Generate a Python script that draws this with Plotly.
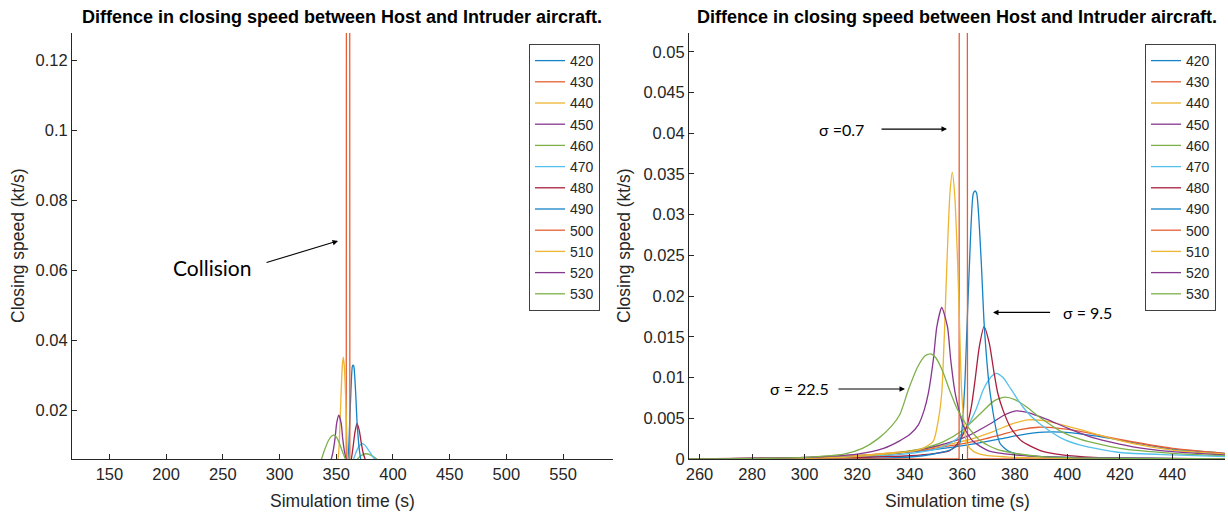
import plotly.graph_objects as go

# ---------------- data ----------------
speeds = ["420", "430", "440", "450", "460", "470", "480", "490", "500", "510", "520", "530"]
palette = ["#1583C6", "#E65F36", "#EDB532", "#86378F", "#7DB04A", "#55C0EC",
           "#A81E3E", "#1583C6", "#E65F36", "#EDB532", "#86378F", "#7DB04A"]

t_420 = [256, 300, 320, 335, 345, 355, 365, 375, 383, 391, 398, 407, 417, 427, 440, 460]
v_420 = [0.0000, 0.0001, 0.0004, 0.0007, 0.0010, 0.0014, 0.0019, 0.0025, 0.0030, 0.0033, 0.0033, 0.0030, 0.0025, 0.0019, 0.0012, 0.0007]

t_430 = [256, 300, 320, 335, 345, 355, 365, 375, 382, 389, 396, 405, 415, 425, 440, 460]
v_430 = [0.0000, 0.0001, 0.0004, 0.0008, 0.0011, 0.0016, 0.0022, 0.0030, 0.0036, 0.0039, 0.0038, 0.0034, 0.0027, 0.0021, 0.0013, 0.0007]

t_440 = [256, 300, 320, 335, 345, 355, 365, 372, 379, 385, 391, 398, 406, 415, 425, 440, 460]
v_440 = [0.0000, 0.0001, 0.0004, 0.0008, 0.0012, 0.0018, 0.0026, 0.0034, 0.0043, 0.0048, 0.0047, 0.0042, 0.0035, 0.0027, 0.0019, 0.0011, 0.0006]

t_450 = [256, 300, 320, 335, 345, 355, 362, 370, 376, 380.5, 385, 392, 400, 410, 425, 440, 460]
v_450 = [0.0000, 0.0001, 0.0003, 0.0007, 0.0012, 0.0020, 0.0028, 0.0042, 0.0054, 0.0059, 0.0057, 0.0049, 0.0038, 0.0026, 0.0015, 0.0009, 0.0005]

t_460 = [256, 300, 315, 330, 345, 352.7, 360, 367.6, 372, 376, 380, 384, 390, 397.5, 405, 420, 440, 460]
v_460 = [0.0000, 0.0001, 0.0002, 0.0005, 0.0013, 0.0021, 0.0035, 0.0058, 0.0071, 0.0076, 0.0073, 0.0065, 0.0050, 0.0034, 0.0024, 0.0013, 0.0007, 0.0004]

t_470 = [256, 300, 330, 345, 352.7, 358, 362, 365.4, 368, 371, 373, 375.5, 378.5, 382.6, 386, 390, 397.5, 405, 420, 440, 460]
v_470 = [0.0000, 0.0001, 0.0004, 0.0009, 0.0015, 0.0025, 0.0040, 0.0062, 0.0085, 0.0101, 0.0105, 0.0100, 0.0086, 0.0066, 0.0053, 0.0042, 0.0026, 0.0017, 0.0008, 0.0005, 0.0003]

t_480 = [256, 320, 340, 350, 355, 358, 361.5, 363.5, 364.8, 366.5, 368.3, 370.3, 372, 373.5, 375.5, 378.5, 382.6, 390, 398, 410, 430, 460]
v_480 = [0.0000, 0.0002, 0.0004, 0.0007, 0.0010, 0.0018, 0.0038, 0.0065, 0.0095, 0.0138, 0.01625, 0.0142, 0.0108, 0.0081, 0.0060, 0.0038, 0.0022, 0.0010, 0.0005, 0.0002, 0.0001, 0.0000]

t_490 = [256, 330, 345, 352, 356, 359.0, 360.8, 361.8, 362.8, 364.2, 364.9, 365.5, 367.2, 368.4, 370.6, 374.4, 378, 383, 390, 400, 420, 460]
v_490 = [0.0000, 0.0001, 0.0004, 0.0008, 0.0012, 0.0019, 0.0081, 0.0162, 0.0244, 0.0326, 0.0329, 0.0326, 0.0244, 0.0162, 0.0081, 0.0019, 0.0009, 0.0005, 0.0003, 0.0002, 0.0001, 0.0000]

t_500 = [256, 358.8, 359.3, 361.5, 362.0, 460]
v_500 = [0.0000, 0.0000, 0.5000, 0.5000, 0.0000, 0.0000]

t_510 = [256, 300, 320, 330, 340, 345, 349, 351, 352.2, 353.3, 354.2, 355.3, 356.2, 357.1, 358.2, 359.0, 359.8, 361.7, 364, 368, 380, 460]
v_510 = [0.0000, 0.0001, 0.0003, 0.0006, 0.0009, 0.0013, 0.0022, 0.0050, 0.0081, 0.0162, 0.0244, 0.0326, 0.0352, 0.0326, 0.0244, 0.0162, 0.0081, 0.0019, 0.0010, 0.0005, 0.0002, 0.0000]

t_520 = [256, 300, 320, 330, 336, 340, 343.3, 345.5, 347.1, 349.0, 350.3, 352.2, 354.4, 355.6, 357.3, 360.5, 364, 370, 380, 400, 460]
v_520 = [0.0000, 0.0002, 0.0006, 0.0013, 0.0022, 0.0030, 0.0042, 0.0060, 0.0081, 0.0122, 0.0162, 0.0186, 0.0162, 0.0122, 0.0081, 0.0040, 0.0022, 0.0010, 0.0005, 0.0002, 0.0000]

t_530 = [256, 290, 305, 315, 322, 328, 333, 336.3, 339.5, 343, 346, 348, 350, 352.5, 355, 358, 362, 367, 373, 380, 390, 410, 460]
v_530 = [0.0000, 0.0001, 0.0003, 0.0006, 0.0013, 0.0025, 0.0040, 0.0055, 0.0085, 0.0113, 0.0127, 0.0129, 0.0124, 0.0108, 0.0086, 0.0062, 0.0040, 0.0022, 0.0012, 0.0007, 0.0003, 0.0001, 0.0000]

series_t = [t_420, t_430, t_440, t_450, t_460, t_470, t_480, t_490, t_500, t_510, t_520, t_530]
series_v = [v_420, v_430, v_440, v_450, v_460, v_470, v_480, v_490, v_500, v_510, v_520, v_530]

left_xticks = [150, 200, 250, 300, 350, 400, 450, 500, 550]
right_xticks = [260, 280, 300, 320, 340, 360, 380, 400, 420, 440]
left_yticks = [0.02, 0.04, 0.06, 0.08, 0.1, 0.12]
left_yticklabels = ["0.02", "0.04", "0.06", "0.08", "0.1", "0.12"]
right_yticks = [0, 0.005, 0.01, 0.015, 0.02, 0.025, 0.03, 0.035, 0.04, 0.045, 0.05]
right_yticklabels = ["0", "0.005", "0.01", "0.015", "0.02", "0.025", "0.03", "0.035", "0.04", "0.045", "0.05"]

title_text = "Diffence in closing speed between Host and Intruder aircraft."
xlabel = "Simulation time (s)"
ylabel = "Closing speed (kt/s)"

# ---------------- figure ----------------
W, H = 1228, 516
ML, MR, MT, MB = 72, 3, 33, 57
plot_w = W - ML - MR
plot_h = H - MT - MB


def px(xp):
    return (xp - ML) / plot_w


def py(yp):
    return (H - MB - yp) / plot_h


fig = go.Figure()
for i, s in enumerate(speeds):
    shape = "linear" if s == "500" else "spline"
    for xa, ya, lg in (("x", "y", "legend"), ("x2", "y2", "legend2")):
        fig.add_trace(go.Scatter(
            x=series_t[i], y=series_v[i], mode="lines", name=s,
            line=dict(color=palette[i], width=1.3, shape=shape, smoothing=0.6),
            xaxis=xa, yaxis=ya, legend=lg, hoverinfo="skip"))

font_main = "Liberation Sans, Arial, sans-serif"
axis_common = dict(showline=True, linecolor="#262626", linewidth=1, ticks="inside",
                   ticklen=5, tickcolor="#262626", showgrid=False, zeroline=False,
                   tickfont=dict(size=16.5, color="#262626", family=font_main), mirror=False)

left_dom = [0, px(613)]
right_dom = [px(689), 1]

legend_common = dict(xanchor="right", yanchor="top", bgcolor="white",
                     bordercolor="#404040", borderwidth=1,
                     font=dict(size=14, color="#262626", family=font_main),
                     tracegroupgap=0)

fig.update_layout(
    width=W, height=H,
    margin=dict(l=ML, r=MR, t=MT, b=MB),
    paper_bgcolor="white", plot_bgcolor="white",
    font=dict(family=font_main, color="#262626"),
    xaxis=dict(domain=left_dom, range=[117, 594], tickvals=left_xticks, anchor="y", **axis_common),
    yaxis=dict(domain=[0, 1], range=[0.0061, 0.1278], tickvals=left_yticks,
               ticktext=left_yticklabels, anchor="x", **axis_common),
    xaxis2=dict(domain=right_dom, range=[256, 460], tickvals=right_xticks, anchor="y2", **axis_common),
    yaxis2=dict(domain=[0, 1], range=[0, 0.0523], tickvals=right_yticks,
                ticktext=right_yticklabels, anchor="x2", **axis_common),
    legend=dict(x=px(600), y=py(44), **legend_common),
    legend2=dict(x=px(1216), y=py(44), **legend_common),
    showlegend=True,
)

ann = []
# titles
for cx in (342, 957):
    ann.append(dict(text="<b>" + title_text + "</b>", x=px(cx), y=py(17), xref="paper", yref="paper",
                    showarrow=False, xanchor="center", yanchor="middle",
                    font=dict(size=18, color="black", family=font_main)))
# x labels
for cx in (342, 957):
    ann.append(dict(text=xlabel, x=px(cx), y=py(501), xref="paper", yref="paper",
                    showarrow=False, xanchor="center", yanchor="middle",
                    font=dict(size=17.5, color="#262626", family=font_main)))
# y labels
for cx in (18, 624):
    ann.append(dict(text=ylabel, x=px(cx), y=py(246), xref="paper", yref="paper",
                    showarrow=False, xanchor="center", yanchor="middle", textangle=-90,
                    font=dict(size=17.5, color="#262626", family=font_main)))

note_font = "Lato, Open Sans, sans-serif"
# Collision (left)
ann.append(dict(text="Collision", x=240.5, y=0.0607, xref="x", yref="y", showarrow=False,
                font=dict(size=21, color="black", family=note_font)))
ann.append(dict(text="", x=351.6, y=0.0684, ax=287.2, ay=0.0621, xref="x", yref="y",
                axref="x", ayref="y", showarrow=True, arrowhead=2, arrowsize=1,
                arrowwidth=1.1, arrowcolor="black", standoff=0, startstandoff=0))
# sigma annotations (right)
sig = [("σ =0.7", 313.9, 328.7, 354.2, 0.0405),
       ("σ = 9.5", 407.5, 394.0, 371.7, 0.0180),
       ("σ = 22.5", 298.1, 312.3, 338.2, 0.0086)]
for txt, tx, tail, tip, yv in sig:
    ann.append(dict(text=txt, x=tx, y=yv, xref="x2", yref="y2", showarrow=False,
                    font=dict(size=16, color="black", family=note_font)))
    ann.append(dict(text="", x=tip, y=yv, ax=tail, ay=yv, xref="x2", yref="y2",
                    axref="x2", ayref="y2", showarrow=True, arrowhead=2, arrowsize=1,
                    arrowwidth=1.1, arrowcolor="black", standoff=0, startstandoff=0))

fig.update_layout(annotations=ann)

fig.write_html("out.html", config={"displayModeBar": False},
               post_script="document.body.style.margin='0';document.body.style.overflow='hidden';")
